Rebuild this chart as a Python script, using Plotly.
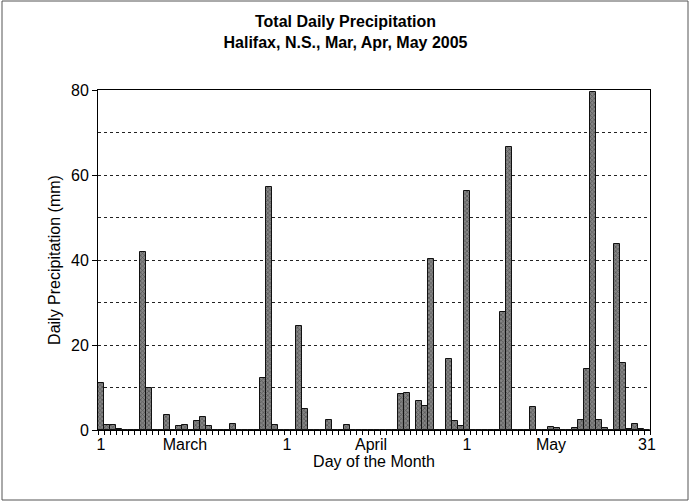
import plotly.graph_objects as go

# Daily precipitation (mm)
march = [11.1, 1.2, 1.1, 0.2, 0, 0, 0, 41.8, 10.0, 0, 0, 3.5, 0, 1.0, 1.1, 0,
         2.2, 3.1, 1.0, 0, 0, 0, 1.4, 0, 0, 0, 0, 12.2, 57.2, 1.2, 0]
april = [0, 0, 24.5, 4.9, 0, 0, 0, 2.4, 0, 0, 1.2, 0, 0, 0, 0, 0, 0, 0, 0,
         8.5, 8.8, 0, 6.8, 5.6, 40.2, 0, 0, 16.7, 2.1, 1.0]
may = [56.2, 0, 0, 0, 0, 0, 27.8, 66.7, 0, 0, 0, 5.5, 0, 0, 0.8, 0.5, 0, 0,
       0.4, 2.4, 14.3, 79.6, 2.4, 0.4, 0, 43.8, 15.8, 0.2, 1.3, 0.3, 0]

values = march + april + may
days = list(range(len(values)))

tick_positions = [0, 14, 31, 45, 61, 75, 91]
tick_labels = ["1", "March", "1", "April", "1", "May", "31"]

FONT = "Liberation Sans, Arial, sans-serif"

fig = go.Figure()
fig.add_trace(go.Bar(
    x=days, y=values,
    width=1.0,
    marker=dict(
        color="#6e6e6e",
        line=dict(color="#111111", width=1),
        pattern=dict(shape="x", size=3, solidity=0.45,
                     fgcolor="#262626", bgcolor="#858585"),
    ),
    showlegend=False,
))

L, R, T, B = 98, 41, 90, 73
W, H = 691, 503
pw, ph = W - L - R, H - T - B

fig.update_layout(
    width=W, height=H,
    margin=dict(l=L, r=R, t=T, b=B, autoexpand=False),
    paper_bgcolor="white", plot_bgcolor="white",
    font=dict(family=FONT, color="black", size=16),
    bargap=0,
    title=dict(
        text="<b>Total Daily Precipitation<br>Halifax, N.S., Mar, Apr, May 2005</b>",
        x=0.5, xanchor="center", y=1 - 27 / H, yanchor="middle",
        font=dict(family=FONT, size=16, color="black"),
    ),
    xaxis=dict(
        range=[-0.5, len(values) - 0.5],
        tickmode="array", tickvals=tick_positions, ticktext=tick_labels,
        ticks="", showgrid=False, zeroline=False,
        showline=True, linecolor="black", linewidth=1, mirror=True,
        tickfont=dict(size=16),
        minor=dict(tickmode="array",
                   tickvals=[d - 0.5 for d in range(len(values) + 1)],
                   ticks="outside", ticklen=4, tickcolor="black", showgrid=False),
        title=dict(text="Day of the Month", font=dict(size=16), standoff=3),
    ),
    yaxis=dict(
        range=[0, 80], tickmode="linear", tick0=0, dtick=20,
        ticks="outside", ticklen=5, tickcolor="black",
        showgrid=True, gridcolor="#222222", griddash="dot", gridwidth=1,
        minor=dict(dtick=10, showgrid=True, gridcolor="#222222",
                   griddash="dot", gridwidth=1),
        zeroline=False,
        showline=True, linecolor="black", linewidth=1, mirror=True,
        tickfont=dict(size=16),
        title=dict(text="Daily Precipitation (mm)", font=dict(size=16), standoff=6),
    ),
)

# Outer chart border
fig.add_shape(type="rect", xref="paper", yref="paper",
              x0=(2 - L) / pw, x1=(688 - L) / pw,
              y0=(H - B - 500) / ph, y1=(H - B - 1) / ph,
              line=dict(color="#555555", width=1), layer="below")

fig.write_html("out.html",
               config={"displayModeBar": False},
               post_script="document.body.style.margin='0';document.body.style.overflow='hidden';")
